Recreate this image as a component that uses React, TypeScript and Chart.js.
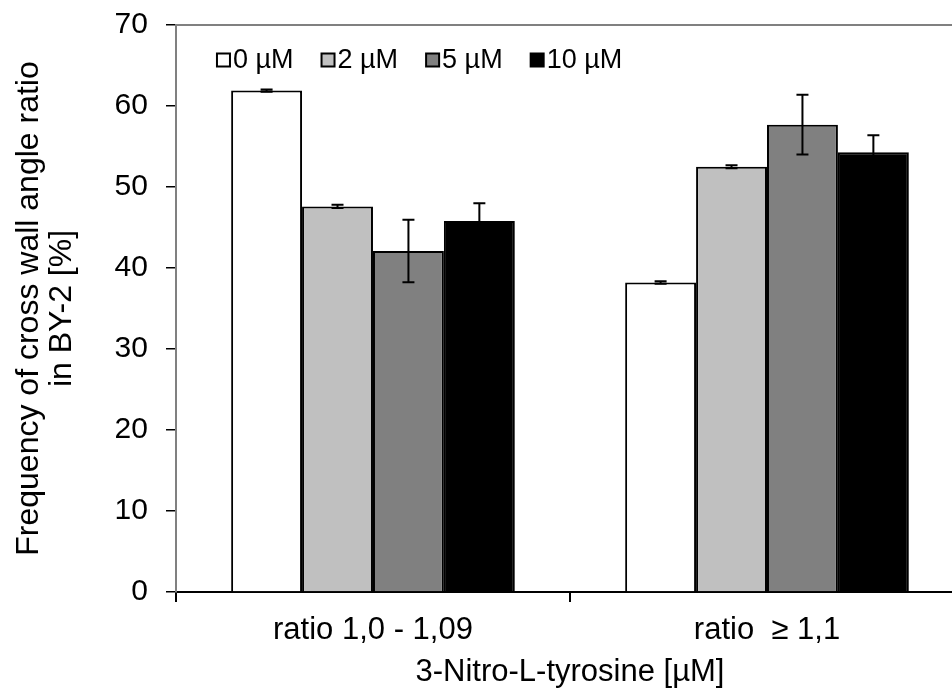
import React, { useEffect, useRef } from "react";
import { Chart, registerables } from "chart.js";

Chart.register(...registerables);

const categories = ["ratio 1,0 - 1,09", "ratio  \u2265 1,1"];
const seriesLabels = ["0 \u00b5M", "2 \u00b5M", "5 \u00b5M", "10 \u00b5M"];
const seriesColors = ["#FFFFFF", "#C0C0C0", "#808080", "#000000"];
const values0 = [61.9, 38.2];
const values2 = [47.6, 52.5];
const values5 = [42.1, 57.7];
const values10 = [45.8, 54.3];
const errors0 = [0.15, 0.15];
const errors2 = [0.2, 0.2];
const errors5 = [3.85, 3.7];
const errors10 = [2.2, 2.1];
const yTicks = [0, 10, 20, 30, 40, 50, 60, 70];
const xTitle = "3-Nitro-L-tyrosine [\u00b5M]";
const yTitle = ["Frequency of cross wall angle ratio", "in BY-2 [%]"];

const FONT = "'Liberation Sans', Arial, sans-serif";

const errorBarPlugin = {
  id: "errorBars",
  afterDatasetsDraw(chart: any) {
    const ctx = chart.ctx;
    const yScale = chart.scales.y;
    ctx.save();
    ctx.strokeStyle = "#000";
    ctx.lineWidth = 2;
    chart.data.datasets.forEach((ds: any, di: number) => {
      const meta = chart.getDatasetMeta(di);
      meta.data.forEach((bar: any, i: number) => {
        const v = ds.data[i];
        const e = ds.errors[i];
        const x = bar.x;
        const yt = yScale.getPixelForValue(v + e);
        const yb = yScale.getPixelForValue(v - e);
        const cap = 6;
        ctx.beginPath();
        ctx.moveTo(x, yt);
        ctx.lineTo(x, yb);
        ctx.moveTo(x - cap, yt);
        ctx.lineTo(x + cap, yt);
        ctx.moveTo(x - cap, yb);
        ctx.lineTo(x + cap, yb);
        ctx.stroke();
      });
    });
    ctx.restore();
  },
};

const frameLegendPlugin = {
  id: "frameLegend",
  beforeDatasetsDraw(chart: any) {
    const { ctx, chartArea } = chart;
    ctx.save();
    ctx.strokeStyle = "#808080";
    ctx.lineWidth = 2;
    ctx.beginPath();
    ctx.moveTo(chartArea.left, chartArea.top);
    ctx.lineTo(chartArea.right, chartArea.top);
    ctx.stroke();
    ctx.restore();
  },
  afterDraw(chart: any) {
    const { ctx, chartArea } = chart;
    ctx.save();
    ctx.font = `27px ${FONT}`;
    ctx.textBaseline = "middle";
    ctx.textAlign = "left";
    let x = chartArea.left + 41;
    const y = chartArea.top + 35;
    const box = 13;
    chart.data.datasets.forEach((ds: any) => {
      ctx.fillStyle = ds.backgroundColor;
      ctx.fillRect(x, y - box / 2, box, box);
      ctx.strokeStyle = "#000";
      ctx.lineWidth = 2;
      ctx.strokeRect(x, y - box / 2, box, box);
      ctx.fillStyle = "#000";
      ctx.fillText(ds.label, x + box + 3, y + 1);
      x += box + 3 + ctx.measureText(ds.label).width + 28;
    });
    ctx.restore();
  },
};

export default function App() {
  const ref = useRef<HTMLCanvasElement | null>(null);
  useEffect(() => {
    if (!ref.current) return;
    const valueSets = [values0, values2, values5, values10];
    const errorSets = [errors0, errors2, errors5, errors10];
    const chart = new Chart(ref.current, {
      type: "bar",
      data: {
        labels: categories,
        datasets: seriesLabels.map((label, i) => ({
          label,
          data: valueSets[i],
          errors: errorSets[i],
          backgroundColor: seriesColors[i],
          borderColor: "#000000",
          borderWidth: 2,
          categoryPercentage: 0.72,
          barPercentage: 1,
        })) as any,
      },
      options: {
        animation: false,
        responsive: false,
        maintainAspectRatio: false,
        layout: { padding: { left: 0, right: 2, top: 25, bottom: 0 } },
        plugins: {
          legend: { display: false },
          tooltip: { enabled: false },
        },
        scales: {
          x: {
            offset: true,
            grid: {
              offset: true,
              drawOnChartArea: false,
              tickLength: 10,
              color: "#000",
              lineWidth: 2,
            },
            border: { color: "#000", width: 2 },
            ticks: {
              color: "#000",
              font: { family: FONT, size: 31, lineHeight: 1.2 },
              padding: 9.4,
            },
            title: {
              display: true,
              text: xTitle,
              color: "#000",
              font: { family: FONT, size: 31, lineHeight: 0.935 },
              padding: { top: 0, bottom: 12 },
            },
          },
          y: {
            min: 0,
            max: 70,
            afterBuildTicks: (scale: any) => {
              scale.ticks = yTicks.map((v) => ({ value: v }));
            },
            grid: {
              drawOnChartArea: false,
              tickLength: 10,
              color: "#000",
              lineWidth: 1.5,
            },
            border: { color: "#808080", width: 2 },
            ticks: {
              color: "#000",
              font: { family: FONT, size: 30, lineHeight: 0.4 },
              padding: 18,
            },
            title: {
              display: true,
              text: yTitle,
              color: "#000",
              font: { family: FONT, size: 32, lineHeight: 1.05 },
              padding: { top: 12, bottom: 17.4 },
            },
          },
        },
      },
      plugins: [errorBarPlugin, frameLegendPlugin],
    });
    return () => chart.destroy();
  }, []);
  return (
    <div
      style={{
        position: "fixed",
        left: 0,
        top: 0,
        width: 952,
        height: 699,
        overflow: "hidden",
        background: "#fff",
      }}
    >
      <canvas ref={ref} width={966} height={699} style={{ display: "block" }} />
    </div>
  );
}
